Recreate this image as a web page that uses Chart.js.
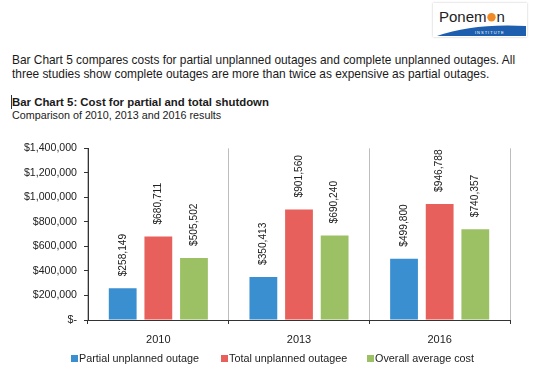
<!DOCTYPE html>
<html>
<head>
<meta charset="utf-8">
<script src="https://cdn.jsdelivr.net/npm/chart.js@4"></script>
<style>
html,body{margin:0;padding:0;background:#fff;width:540px;height:372px;overflow:hidden;font-family:"Liberation Sans",Arial,sans-serif;color:#222}
#intro{position:absolute;left:12px;top:53px;width:526px;font-size:11.9px;line-height:14px;color:#1a1a1a}
#ttl{position:absolute;left:12px;top:95px;font-size:11.4px;line-height:14px;font-weight:bold;color:#1a1a1a}
#sub{position:absolute;left:12px;top:108px;font-size:10.75px;line-height:14px;color:#1a1a1a}
#cursor{position:absolute;left:11px;top:95px;width:1px;height:14px;background:#333}
#logo{position:absolute;left:433px;top:3px;width:94px;height:34px;background:#fff;box-shadow:0 0 2px rgba(0,0,0,.25)}
#wrap{position:absolute;left:0;top:135px;width:540px;height:237px}
#legend{position:absolute;left:0;top:351px;width:540px;height:14px;font-size:10.8px;line-height:14px;color:#222;white-space:nowrap}
#legend span.it{position:absolute;top:0}
#legend i{display:inline-block;width:7px;height:7px;margin-right:1px;vertical-align:0}
</style>
</head>
<body>
<div id="logo">
  <svg width="94" height="34" viewBox="0 0 94 34">
    <text x="6" y="19" font-family="Liberation Sans,Arial" font-size="15" fill="#222">Ponem</text>
    <circle cx="58.5" cy="14.2" r="4.2" fill="#f08a24"/>
    <text x="63.5" y="19" font-family="Liberation Sans,Arial" font-size="15" fill="#222">n</text>
    <path d="M4 33 Q40 20 93 23 L93 33 Z" fill="#1d5fae"/>
    <text x="42" y="30.5" font-family="Liberation Sans,Arial" font-size="4" letter-spacing="1" fill="#fff">INSTITUTE</text>
  </svg>
</div>
<div id="intro">Bar Chart 5 compares costs for partial unplanned outages and complete unplanned outages. All three studies show complete outages are more than twice as expensive as partial outages.</div>
<div id="cursor"></div>
<div id="ttl">Bar Chart 5: Cost for partial and total shutdown</div>
<div id="sub">Comparison of 2010, 2013 and 2016 results</div>
<div id="wrap"><canvas id="c"></canvas></div>
<div id="legend"></div>
<script>
// data
const YEARS=['2010','2013','2016'];
const PARTIAL=[258149,350413,499800];
const TOTAL=[680711,901560,946788];
const OVERALL=[505502,690240,740357];
const SERIES_NAMES=['Partial unplanned outage','Total unplanned outagee','Overall average cost'];
const COLORS=['#3a8fd0','#e8605b','#9cc164'];
const Y_MAX=1400000,Y_STEP=200000;
const FONT='"Liberation Sans", Arial, sans-serif';

function money(v){return v===0?'$-':'$'+v.toLocaleString('en-US');}

// rotated value labels above each bar
const barLabels={
  id:'barLabels',
  afterDatasetsDraw(chart){
    const ctx=chart.ctx;
    ctx.save();
    ctx.font='10.2px '+FONT;
    ctx.fillStyle='#222';
    ctx.textAlign='left';
    ctx.textBaseline='middle';
    chart.data.datasets.forEach((ds,i)=>{
      chart.getDatasetMeta(i).data.forEach((bar,j)=>{
        ctx.save();
        ctx.translate(bar.x,bar.y-12);
        ctx.rotate(-Math.PI/2);
        ctx.fillText(money(ds.data[j]),0,0);
        ctx.restore();
      });
    });
    ctx.restore();
  }
};

const sets=[PARTIAL,TOTAL,OVERALL].map((d,i)=>({label:SERIES_NAMES[i],data:d,backgroundColor:COLORS[i],borderWidth:0,barPercentage:.78,categoryPercentage:.76}));

const chart=new Chart(document.getElementById('c'),{
  type:'bar',
  data:{labels:YEARS,datasets:sets},
  plugins:[barLabels],
  options:{
    responsive:true,maintainAspectRatio:false,animation:false,
    layout:{padding:{top:13,right:30,left:0,bottom:0}},
    plugins:{tooltip:{enabled:false},legend:{display:false}},
    scales:{
      x:{
        afterFit(s){s.height=52;},
        grid:{offset:true,color:'#bdbdbd',tickColor:'#333',tickLength:4,lineWidth:1},
        border:{color:'#333',width:1},
        ticks:{color:'#222',padding:9,font:{family:FONT,size:11}}
      },
      y:{
        min:0,max:Y_MAX,
        afterFit(s){s.width=88;},
        grid:{drawOnChartArea:false,tickColor:'#333',tickLength:4},
        border:{color:'#333',width:1},
        ticks:{stepSize:Y_STEP,padding:7,color:'#222',font:{family:FONT,size:10.6},callback:v=>money(v)}
      }
    }
  }
});

// legend laid out like the original (wide gaps between items)
const LEGEND_X=[71,221,367];
document.getElementById('legend').innerHTML=chart.data.datasets.map((ds,i)=>
  `<span class="it" style="left:${LEGEND_X[i]}px"><i style="background:${ds.backgroundColor}"></i>${ds.label}</span>`).join('');
</script>
</body>
</html>
